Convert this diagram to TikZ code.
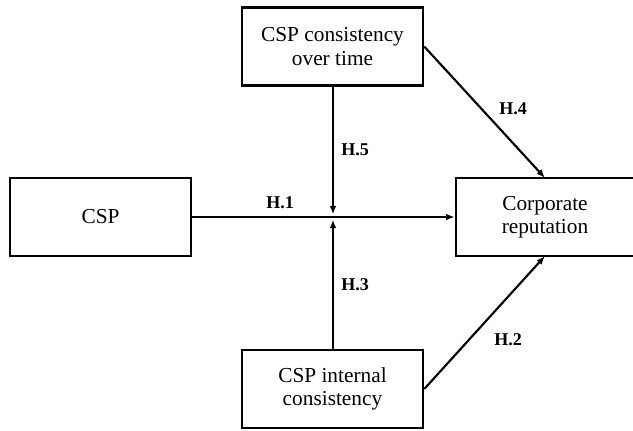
\documentclass[tikz,border=0pt]{standalone}
\usepackage{fontspec}
\setmainfont{Liberation Serif}
\usetikzlibrary{arrows.meta}

\begin{document}
\begin{tikzpicture}[x=0.75pt,y=-0.75pt]
\useasboundingbox (0,0) rectangle (633,430);
\begin{scope}[every node/.style={draw,line width=1.9pt,inner sep=0pt,align=center,
              minimum height=58.5pt,font=\fontsize{16}{17.5}\selectfont}]
    \node[minimum width=135.75pt] (time) at (332.5, 46.5) {CSP consistency\\over time};
    \node[minimum width=135.75pt] (csp) at (100.5, 217) {CSP};
    \node[minimum width=133.5pt] (rep) at (545, 217) {Corporate\\reputation};
    \node[minimum width=135.75pt] (internal) at (332.5, 389) {CSP internal\\consistency};
\end{scope}
\coordinate (jtop) at (333, 214.5);
\coordinate (jbot) at (333, 219.5);
\coordinate (reptop) at (545, 178);
\coordinate (repbot) at (545, 256);
\begin{scope}[>={Latex[length=6.5pt,width=5pt]},
              every node/.style={font=\fontsize{13.5}{13.5}\bfseries},
              hyp_edge/.style={draw=black,line width=1.6pt}]
    \path [->] (csp) edge [hyp_edge] (rep);
    \path [->] (time.south -| jtop) edge [hyp_edge] (jtop);
    \path [->] (internal.north -| jbot) edge [hyp_edge] (jbot);
    \path [->] (time.east) edge [hyp_edge] (reptop);
    \path [->] (internal.east) edge [hyp_edge] (repbot);
    \node (h1) at (280, 203) {H.1};
    \node (h5) at (355, 150) {H.5};
    \node (h3) at (355, 285) {H.3};
    \node (h4) at (513, 109) {H.4};
    \node (h2) at (508, 340) {H.2};
\end{scope}
\end{tikzpicture}
\end{document}
